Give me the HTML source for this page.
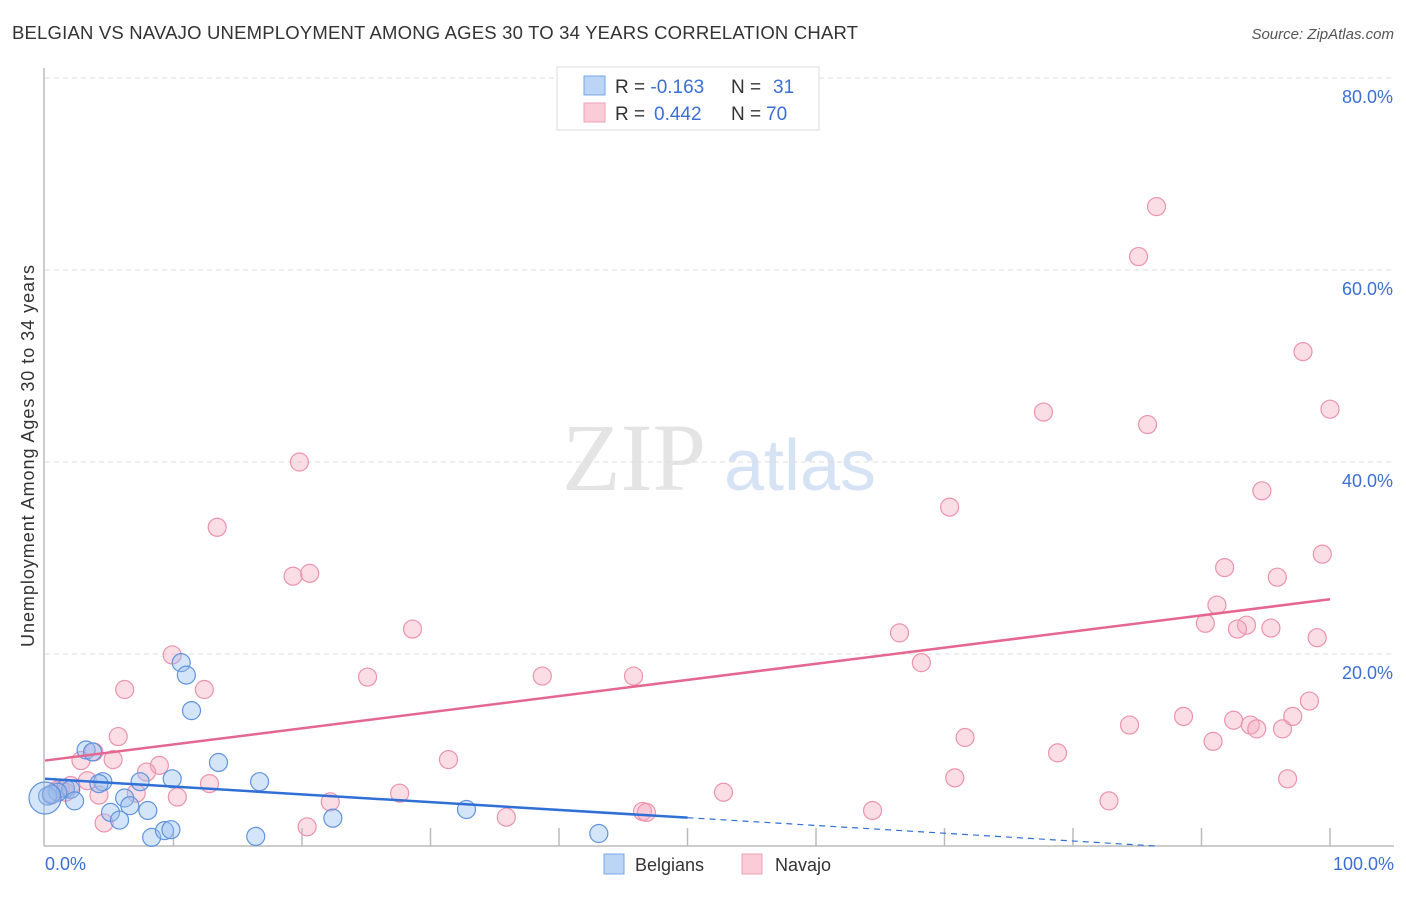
<!DOCTYPE html>
<html><head><meta charset="utf-8"><style>
body{margin:0;background:#fff;font-family:"Liberation Sans",sans-serif}
</style></head><body>
<svg width="1406" height="892" xmlns="http://www.w3.org/2000/svg">
<text x="12" y="39" font-size="18.5" fill="#333" textLength="846">BELGIAN VS NAVAJO UNEMPLOYMENT AMONG AGES 30 TO 34 YEARS CORRELATION CHART</text>
<text x="1394" y="39" font-size="15" fill="#555" font-style="italic" text-anchor="end">Source: ZipAtlas.com</text>
<text x="634" y="490" font-size="96" fill="#e4e4e4" font-family="Liberation Serif,serif" text-anchor="middle">ZIP</text>
<text x="800" y="490" font-size="72" fill="#d6e3f5" text-anchor="middle">atlas</text>
<g id="grid"></g>
<g id="marks"></g>
<text transform="translate(34,456) rotate(-90)" font-size="18" fill="#333" text-anchor="middle" textLength="382">Unemployment Among Ages 30 to 34 years</text>
<text x="45" y="870" font-size="18" fill="#3b6fd4">0.0%</text>
<text x="1394" y="870" font-size="18" fill="#3b6fd4" text-anchor="end">100.0%</text>
<g>
<rect x="557" y="67" width="262" height="63" fill="#fff" stroke="#ddd"/>
<rect x="584" y="76" width="21" height="19" fill="#bcd4f5" stroke="#7aa6e6"/>
<rect x="584" y="103" width="21" height="19" fill="#fbcbd8" stroke="#eda3b8"/>
<text x="615" y="93" font-size="19" fill="#333">R = <tspan fill="#3b6fd4">-0.163</tspan><tspan x="731">N = </tspan><tspan x="773" fill="#3b6fd4">31</tspan></text>
<text x="615" y="120" font-size="19" fill="#333">R = <tspan x="654" fill="#3b6fd4">0.442</tspan><tspan x="731">N = </tspan><tspan x="766" fill="#3b6fd4">70</tspan></text>
</g>
<g>
<rect x="604" y="854" width="20" height="20" fill="#bcd4f5" stroke="#7aa6e6"/>
<text x="635" y="871" font-size="18" fill="#333">Belgians</text>
<rect x="742" y="854" width="20" height="20" fill="#fbcbd8" stroke="#eda3b8"/>
<text x="775" y="871" font-size="18" fill="#333">Navajo</text>
</g>
</svg>
<script>
const yTicks=[20,40,60,80];
const xTicks=[10,20,30,40,50,60,70,80,90,100];
const belgX=[10.6,11.0,11.4,3.2,3.7,13.5,9.9,16.7,7.4,4.5,4.2,1.6,2.0,1.0,0.2,0.5,6.2,6.6,8.0,2.3,5.1,5.8,22.4,32.8,8.3,9.3,9.8,16.4,43.1,0];
const belgY=[19.1,17.8,14.1,10.0,9.8,8.7,7.0,6.7,6.7,6.7,6.5,6.0,5.9,5.6,5.2,5.4,5.0,4.2,3.7,4.7,3.5,2.7,2.9,3.8,0.9,1.6,1.7,1.0,1.3,5.0];
const navX=[86.5,85.1,97.9,100,77.7,85.8,19.8,94.7,70.4,13.4,99.4,91.8,19.3,20.6,95.9,91.2,90.3,93.5,92.8,95.4,28.6,99,66.5,9.9,68.2,6.2,12.4,25.1,38.7,45.8,98.4,88.6,84.4,92.5,93.8,94.3,96.3,97.1,71.6,90.9,5.7,78.8,3.8,5.3,2.8,31.4,8.9,7.9,70.8,96.7,12.8,3.3,2.0,7.1,4.2,27.6,52.8,10.3,22.2,82.8,64.4,46.5,46.8,35.9,20.4,4.6,0.9,0.5,1.2,1.6];
const navY=[66.6,61.4,51.5,45.5,45.2,43.9,40.0,37.0,35.3,33.2,30.4,29.0,28.1,28.4,28.0,25.1,23.2,23.0,22.6,22.7,22.6,21.7,22.2,19.9,19.1,16.3,16.3,17.6,17.7,17.7,15.1,13.5,12.6,13.1,12.6,12.2,12.2,13.5,11.3,10.9,11.4,9.7,9.8,9.0,8.9,9.0,8.4,7.7,7.1,7.0,6.5,6.8,6.3,5.5,5.3,5.5,5.6,5.1,4.6,4.7,3.7,3.6,3.5,3.0,2.0,2.4,5.8,5.3,6.0,5.6];
const belgLine=[7.0,-1.1];
const navLine=[8.9,25.7];
const NS='http://www.w3.org/2000/svg';
const X0=45,X1=1330,Y0=846,PY=9.6;
const sx=v=>X0+(X1-X0)*v/100, sy=v=>Y0-v*PY;
function mk(t,a,p){const e=document.createElementNS(NS,t);for(const k in a)e.setAttribute(k,a[k]);p.appendChild(e);return e;}
const grid=document.getElementById('grid'),marks=document.getElementById('marks');
yTicks.forEach(t=>{
 const l=mk('line',{x1:X0,x2:1394,y1:sy(t),y2:sy(t),stroke:'#ddd','stroke-dasharray':'5,4'},grid);
 
 
 const tx=mk('text',{x:1393,y:sy(t)+25,'font-size':18,fill:'#3b6fd4','text-anchor':'end'},grid);
 tx.textContent=t.toFixed(1)+'%';
 
 
});
const ax=mk('line',{x1:44,x2:44,y1:68,y2:846,stroke:'#bbb','stroke-width':1.5},grid);


const bx=mk('line',{x1:44,x2:1394,y1:846,y2:846,stroke:'#bbb','stroke-width':1.5},grid);


xTicks.forEach(t=>{
 const l=mk('line',{x1:sx(t),x2:sx(t),y1:828,y2:846,stroke:'#bbb','stroke-width':1.5},grid);
 
 
});
navX.forEach((v,i)=>{
 const c=mk('circle',{cx:sx(v),cy:sy(navY[i]),r:9,fill:'rgba(245,170,192,0.4)',stroke:'#eb93ad','stroke-width':1.2},marks);
 
 
});
belgX.forEach((v,i)=>{
 const c=mk('circle',{cx:sx(v),cy:sy(belgY[i]),r:i==belgX.length-1?16:9,fill:'rgba(150,190,240,0.4)',stroke:'#5f93dd','stroke-width':1.2},marks);
 
 
});
const by=x=>belgLine[0]+(belgLine[1]-belgLine[0])*x/100;
const bl=mk('line',{x1:sx(0),y1:sy(by(0)),x2:sx(50),y2:sy(by(50)),stroke:'#2f6fd6','stroke-width':2.5},marks);


const xEnd=Math.min(100,belgLine[0]/(belgLine[0]-belgLine[1])*100);
const bd=mk('line',{x1:sx(50),y1:sy(by(50)),x2:sx(xEnd),y2:sy(by(xEnd)),stroke:'#2f6fd6','stroke-width':1.2,'stroke-dasharray':'6,5'},marks);


const nl=mk('line',{x1:sx(0),y1:sy(navLine[0]),x2:sx(100),y2:sy(navLine[1]),stroke:'#e5678f','stroke-width':2.5},marks);


</script>
</body></html>
